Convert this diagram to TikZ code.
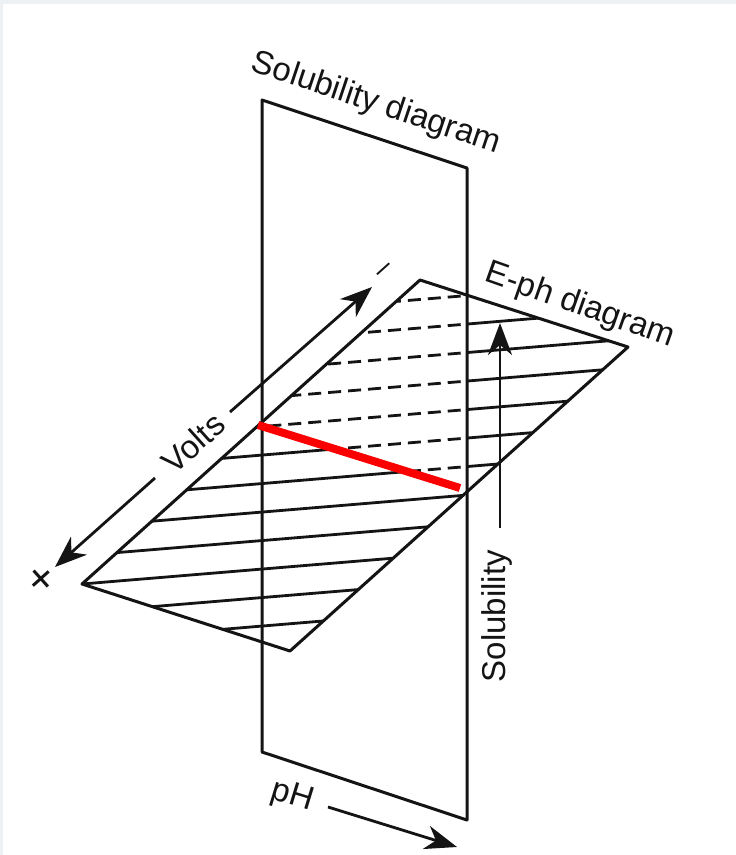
\documentclass[tikz,border=0pt]{standalone}
\usepackage{fontspec}
\setmainfont{Liberation Sans}
\usetikzlibrary{arrows.meta}
\definecolor{framegray}{RGB}{238,241,243}
\definecolor{ink}{RGB}{20,20,20}
\definecolor{redline}{RGB}{250,0,0}
\begin{document}
\begin{tikzpicture}[x=1pt,y=-1pt,
  edge/.style={line width=3pt, line join=round, ink},
  hatch/.style={line width=2.8pt, ink},
  dhatch/.style={hatch, dash pattern=on 13pt off 7pt},
  axisarrow/.style={line width=2.8pt, ink, -{Stealth[length=32pt,width=24pt,inset=10pt]}},
  lbl/.style={font=\fontsize{33}{40}\selectfont, text=ink, inner sep=0pt},
  sign/.style={font=\fontsize{30}{34}\selectfont, text=ink, inner sep=0pt},
  intersect/.style={line width=8pt, redline},
]
\fill[framegray] (0,0) rectangle (736,855);
\fill[white] (3,4) rectangle (736,855);
\useasboundingbox (0,0) rectangle (736,855);

% solubility (vertical) plane
\coordinate (sTL) at (262,100);
\coordinate (sTR) at (467,168);
\coordinate (sBR) at (467,820);
\coordinate (sBL) at (262,752);
% E-pH plane
\coordinate (eL) at (82,584);
\coordinate (eT) at (420,280);
\coordinate (eR) at (628,347);
\coordinate (eB) at (290,651);
% intersection line
\coordinate (rA) at (258,425);
\coordinate (rB) at (460,488);

% hatching: solid part
\begin{scope}
  \clip (eL) -- (eT) -- (eR) -- (eB) -- cycle;
  \clip (0,345.8) -- (467,490.1) -- (467,0) -- (800,0) -- (800,900) -- (0,900) -- cycle;
  \foreach \k in {-2,...,9}
    \draw[hatch] (60,{585.83-28.5*\k}) -- (660,{536.03-28.5*\k});
\end{scope}
% hatching: hidden (dashed) part
\begin{scope}
  \clip (eL) -- (eT) -- (eR) -- (eB) -- cycle;
  \clip (0,345.8) -- (467,490.1) -- (467,0) -- (0,0) -- cycle;
  \foreach \k in {-2,...,9}
    \draw[dhatch] (660,{536.03-28.5*\k}) -- (60,{585.83-28.5*\k});
\end{scope}

\draw[edge] (eL) -- (eT) -- (eR) -- (eB) -- cycle;
\draw[edge] (sTL) -- (sTR) -- (sBR) -- (sBL) -- cycle;
\draw[intersect] (rA) -- (rB);

% labels
\node[lbl, rotate=-18.5] (soldiag) at (376,104) {Solubility diagram};
\node[lbl, rotate=-19.5] (ephdiag) at (580,306) {E-ph diagram};
\node[lbl, rotate=42] (volts) at (193,443) {Volts};
\node[lbl, rotate=90] (solub) at (497,616) {Solubility};
\node[lbl, rotate=-17] (ph) at (292,797) {pH};
\node[sign, rotate=42] (minus) at (386,272) {–};
\node[sign, font=\fontsize{44}{50}\selectfont, rotate=42] (plus) at (43,580) {+};

% axes
\coordinate (vU1) at (230,412);
\coordinate (vU2) at (372,287);
\coordinate (vL1) at (155,478);
\coordinate (vL2) at (55,567);
\coordinate (sA) at (500,528);
\coordinate (sB) at (500,323);
\coordinate (pA) at (328,807);
\coordinate (pB) at (457,847);
\draw[axisarrow] (vU1) -- (vU2);
\draw[axisarrow] (vL1) -- (vL2);
\draw[axisarrow] (sA) -- (sB);
\draw[axisarrow] (pA) -- (pB);
\end{tikzpicture}
\end{document}
